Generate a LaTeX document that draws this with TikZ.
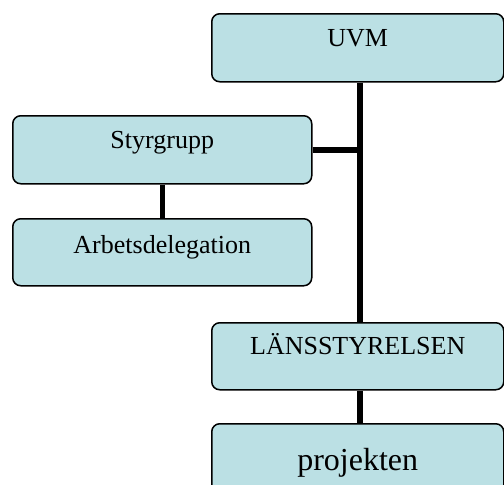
\documentclass[tikz,border=0pt]{standalone}
\usepackage{fontspec}
\setmainfont{Liberation Serif}
\definecolor{boxfill}{RGB}{187,224,228}
\begin{document}
\begin{tikzpicture}[x=1pt,y=-1pt,
  orgbox/.style={draw=black, line width=1.5pt, fill=boxfill, rounded corners=8pt,
    inner sep=0pt, anchor=north west, align=center,
    font=\fontsize{26}{30}\selectfont},
  link/.style={draw=black, line width=5.5pt}]
\clip (0,0) rectangle (504,485);
\fill[white] (0,0) rectangle (504,485);
\coordinate (spine) at (360,0);
\node[orgbox, minimum width=292pt, text height=33pt, text depth=35pt] (uvm) at (211,13) {UVM};
\node[orgbox, minimum width=299pt, text height=33pt, text depth=35pt] (sty) at (12,115) {Styrgrupp};
\node[orgbox, minimum width=299pt, text height=35pt, text depth=32pt] (arb) at (12,218) {Arbetsdelegation};
\node[orgbox, minimum width=292pt, text height=32pt, text depth=35pt] (lans) at (211,322) {LÄNSSTYRELSEN};
\node[orgbox, minimum width=292pt, text height=47pt, text depth=40pt, font=\fontsize{32}{36}\selectfont] (proj) at (211,423) {projekten};
\draw[link] (uvm.south -| spine) -- (lans.north -| spine);
\draw[link] (sty.east) -- (sty.east -| spine);
\draw[link] (sty.south) -- (arb.north);
\draw[link] (lans.south -| spine) -- (proj.north -| spine);
\end{tikzpicture}
\end{document}
